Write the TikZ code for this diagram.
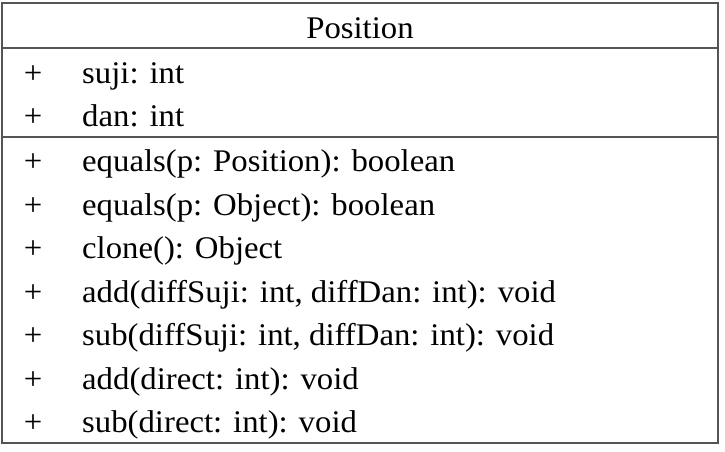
\documentclass[tikz,border=0pt]{standalone}
\usepackage{fontspec}
\setmainfont[FakeStretch=1.04]{Liberation Serif}
\usepackage{tikz}
\usetikzlibrary{positioning}
\definecolor{FrameGray}{RGB}{85,85,85}

\tikzset{
	member/.style={anchor=base west, inner sep=0pt, font=\fontsize{31.5}{36}\selectfont},
	vis/.style={anchor=base, inner sep=0pt, font=\fontsize{31.5}{36}\selectfont},
}

\begin{document}
\begin{tikzpicture}[x=1pt, y=-1pt]
	\useasboundingbox (0,0) rectangle (725,451);
	% frame
	\draw[FrameGray, line width=1.6pt] (2,3) rectangle (718,443);
	\draw[FrameGray, line width=1.4pt] (2,48) -- (718,48);
	\draw[FrameGray, line width=1.4pt] (2,137) -- (718,137);
	% class name
	\node[vis] (name) at (360,38.5) {Position};
	% attributes
	\node[vis] (va1) at (33,83) {+};
	\node[member] (suji) at (82,83) {suji: int};
	\node[vis] (va2) at (33,126.5) {+};
	\node[member] (dan) at (82,126.5) {dan: int};
	% operations
	\foreach \i/\txt in {1/{equals(p: Position): boolean},
		2/{equals(p: Object): boolean},
		3/{clone(): Object},
		4/{add(diffSuji: int, diffDan: int): void},
		5/{sub(diffSuji: int, diffDan: int): void},
		6/{add(direct: int): void},
		7/{sub(direct: int): void}}{
		\node[vis] (vo\i) at (33,{171.5+43.5*(\i-1)}) {+};
		\node[member] (op\i) at (82,{171.5+43.5*(\i-1)}) {\txt};
	}
\end{tikzpicture}
\end{document}
